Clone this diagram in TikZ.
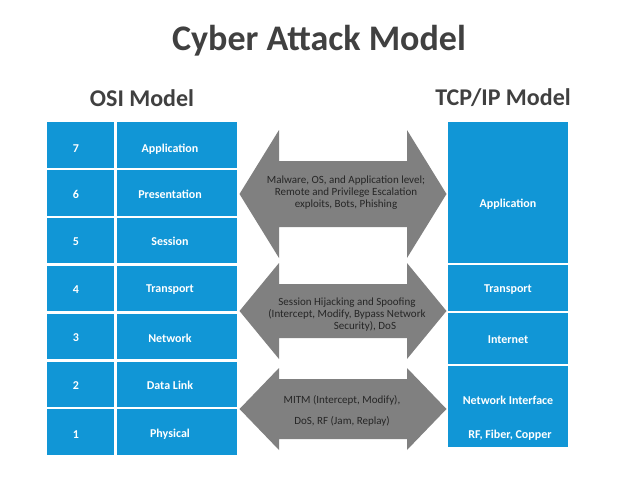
\documentclass[tikz,border=0pt]{standalone}
\usepackage{fontspec}
\setmainfont{Carlito}
\usetikzlibrary{positioning}
\definecolor{layerblue}{RGB}{17, 150, 214}
\definecolor{attackgray}{RGB}{128, 128, 128}
\definecolor{headgray}{RGB}{64, 64, 64}
\definecolor{inkblack}{RGB}{38, 38, 38}

\tikzset{
  layer/.style={fill=layerblue, inner sep=0pt, minimum width=120pt},
  layertext/.style={text=white, inner sep=0pt, font=\fontsize{12}{14}\selectfont\bfseries},
  attacktext/.style={text=inkblack, inner sep=0pt, align=center, font=\fontsize{11}{12}\selectfont},
  heading/.style={text=headgray, inner sep=0pt, font=\fontsize{24}{29}\selectfont\bfseries},
}

\begin{document}
\begin{tikzpicture}[x=1pt, y=-1pt]
    \useasboundingbox (0,0) rectangle (638,479);
    % Titles
    \node[heading, font=\fontsize{36}{43}\selectfont\bfseries] (title) at (319, 41) {Cyber Attack Model};
    \node[heading] (osihead) at (142, 98) {OSI Model};
    \node[heading] (tcphead) at (503, 98) {TCP/IP Model};
    % OSI layers
    \foreach \num/\name/\ty [count=\i from 0] in {7/Application/149, 6/Presentation/194, 5/Session/241.5,
                                                   4/Transport/290, 3/Network/338, 2/Data Link/385.5, 1/Physical/434.5} {
        \pgfmathsetmacro{\y}{144.8 + 47.9*\i}
        \node[layer, minimum width=67pt, minimum height=45.6pt] (num\num) at (80.5, \y) {};
        \node[layer, minimum height=45.6pt]                     (osi\num) at (177, \y) {};
        \node[layertext] (numt\num) at (76, \ty)  {\num};
        \node[layertext] (osit\num) at (170, \ty) {\name};
    }
    % TCP/IP layers
    \node[layer, minimum height=141pt]  (tcpapp)   at (508, 192.5) {};
    \node[layer, minimum height=45.5pt] (tcptrans) at (508, 288.2) {};
    \node[layer, minimum height=50.5pt] (tcpinet)  at (508, 338.7) {};
    \node[layer, minimum height=80.5pt] (tcpnet)   at (508, 406.7) {};
    \node[layertext] (tcpappt)   at (508, 204) {Application};
    \node[layertext] (tcptranst) at (508, 290) {Transport};
    \node[layertext] (tcpinett)  at (508, 340) {Internet};
    \node[layertext] (tcpnett)   at (508, 400) {Network Interface};
    \node[layertext] (tcpmedia)  at (510, 435) {RF, Fiber, Copper};
    % Attack arrows
    \fill[attackgray] (239.5,194) -- (279,130) -- (279,161) -- (407,161) -- (407,130) -- (446.5,194)
                      -- (407,258) -- (407,227) -- (279,227) -- (279,258) -- cycle;
    \fill[attackgray] (239.5,311) -- (279,263) -- (279,284) -- (407,284) -- (407,263) -- (446.5,311)
                      -- (407,359) -- (407,338) -- (279,338) -- (279,359) -- cycle;
    \fill[attackgray] (239.5,409) -- (279,368) -- (279,379) -- (407,379) -- (407,368) -- (446.5,409)
                      -- (407,450) -- (407,439) -- (279,439) -- (279,450) -- cycle;
    \node[attacktext] (appattack) at (346, 193)
        {Malware, OS, and Application level;\\Remote and Privilege Escalation\\exploits, Bots, Phishing};
    \node[attacktext] (netattack) at (347, 315)
        {Session Hijacking and Spoofing\\(Intercept, Modify, Bypass Network\\\hspace*{36pt}Security), DoS};
    \node[attacktext] (linkattack) at (342, 410.5)
        {MITM (Intercept, Modify),\\[9pt]DoS, RF (Jam, Replay)};
\end{tikzpicture}
\end{document}
